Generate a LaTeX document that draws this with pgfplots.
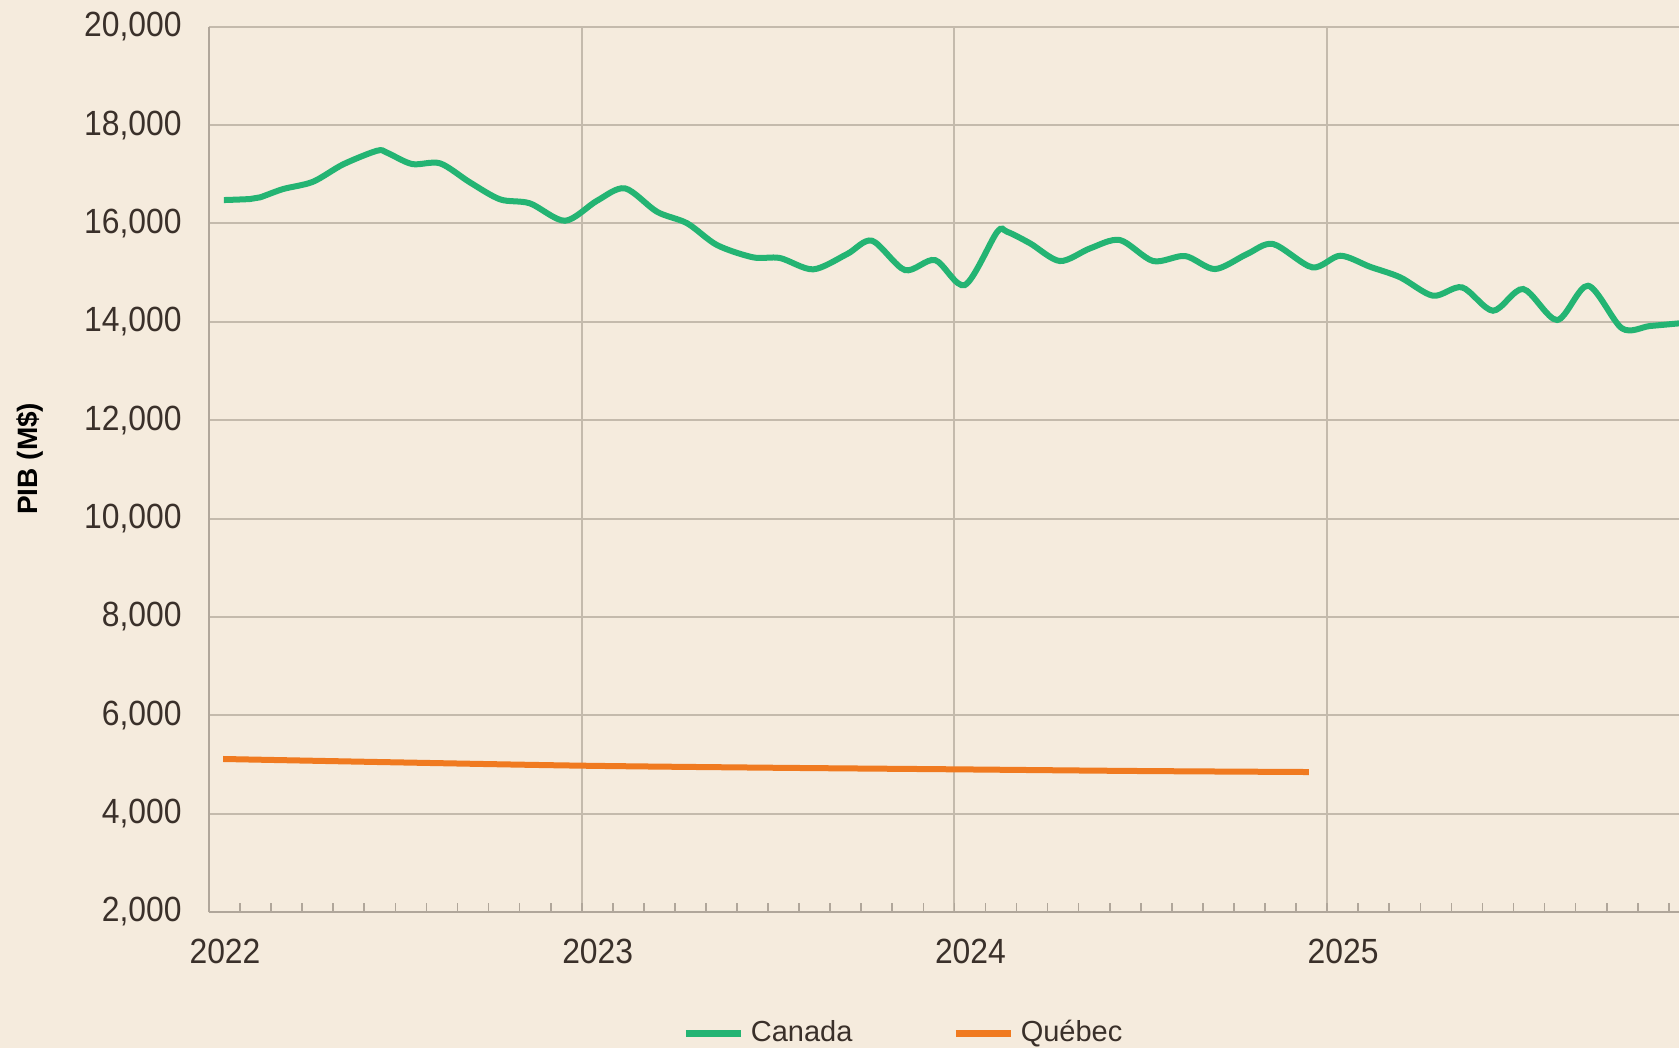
\documentclass[border=0pt]{standalone}
\usepackage{pgfplots}
\pgfplotsset{compat=1.18}
\usepackage{fontspec}
\setmainfont{Liberation Sans}
\newfontfamily\narrow[FakeStretch=0.91]{Liberation Sans}

\definecolor{bg}{RGB}{245,235,221}
\definecolor{gridc}{RGB}{196,186,172}
\definecolor{axisc}{RGB}{176,166,154}
\definecolor{txt}{RGB}{58,48,42}
\definecolor{canada}{RGB}{36,180,115}
\definecolor{quebec}{RGB}{240,122,32}

\begin{document}
\begin{tikzpicture}
% page = 1679 x 1048 px at 0.3pt per px
\fill[bg] (-62.7pt,-40.8pt) rectangle (441pt,273.6pt);
\begin{axis}[
    at={(0,0)}, anchor=south west,
    width=441pt, height=265.6pt,
    scale only axis,
    xmin=2022, xmax=2025.944,
    ymin=2000, ymax=20000,
    xtick={2022,2023,2024,2025},
    minor xtick={2022.0833,2022.1667,2022.25,2022.3333,2022.4167,2022.5,2022.5833,2022.6667,2022.75,2022.8333,2022.9167,
                 2023.0833,2023.1667,2023.25,2023.3333,2023.4167,2023.5,2023.5833,2023.6667,2023.75,2023.8333,2023.9167,
                 2024.0833,2024.1667,2024.25,2024.3333,2024.4167,2024.5,2024.5833,2024.6667,2024.75,2024.8333,2024.9167,
                 2025.0833,2025.1667,2025.25,2025.3333,2025.4167,2025.5,2025.5833,2025.6667,2025.75,2025.8333,2025.9167},
    ytick={2000,4000,...,20000},
    axis x line*=bottom, axis y line*=left,
    axis line style={draw=axisc, line width=0.6pt, -},
    grid=major,
    major grid style={draw=gridc, line width=0.6pt},
    tick align=inside,
    major tick length=2.8pt, minor tick length=2.8pt,
    x tick style={draw=axisc, line width=0.5pt},
    ytick style={draw=none},
    /pgf/number format/assume math mode=true,
    xticklabel style={/pgf/number format/1000 sep={}, font=\narrow\fontsize{10.5}{12}\selectfont, text=txt, yshift=-4.5pt, xshift=4.8pt},
    yticklabel style={/pgf/number format/.cd, fixed, 1000 sep={,}, /tikz/.cd, font=\narrow\fontsize{10.5}{12}\selectfont, text=txt, xshift=-4.7pt},
    scaled y ticks=false,
    ylabel={PIB (M\$)},
    ylabel style={at={(axis description cs:-0.122,0.512)}, anchor=center, rotate=0, font=\fontsize{8.4}{10}\selectfont\bfseries, text=black},
    legend columns=2,
    legend style={at={(0.474,-0.137)}, anchor=center, draw=none, fill=none,
                  font=\fontsize{8.7}{10}\selectfont, text=txt,
                  /tikz/every even column/.append style={column sep=28pt}},
    legend image code/.code={\draw[#1,line width=2pt] (0pt,0pt) -- (16.5pt,0pt);},
    clip=true,
]
\addplot[canada, line width=1.8pt, smooth, tension=0.5] coordinates {
(2022.040,16475) (2022.110,16496) (2022.137,16530) (2022.199,16699)
(2022.279,16847) (2022.360,17201) (2022.451,17478) (2022.478,17437)
(2022.545,17207) (2022.620,17221) (2022.700,16835) (2022.781,16489)
(2022.861,16408) (2022.955,16054) (2023.041,16461) (2023.116,16713)
(2023.202,16237) (2023.283,16002) (2023.363,15560) (2023.460,15310)
(2023.532,15296) (2023.621,15066) (2023.712,15377) (2023.779,15648)
(2023.867,15052) (2023.948,15255) (2024.028,14747) (2024.114,15819)
(2024.141,15831) (2024.203,15595) (2024.283,15235) (2024.364,15493)
(2024.444,15662) (2024.533,15235) (2024.619,15337) (2024.699,15072)
(2024.785,15377) (2024.855,15581) (2024.960,15107) (2025.035,15343)
(2025.115,15119) (2025.196,14904) (2025.284,14530) (2025.362,14700)
(2025.445,14225) (2025.526,14666) (2025.617,14036) (2025.700,14733)
(2025.791,13867) (2025.866,13914) (2025.944,13968)
};
\addlegendentry{Canada}
\addplot[quebec, line width=1.8pt, smooth] coordinates {
(2022.038,5111) (2022.500,5043) (2023.000,4975) (2023.500,4934)
(2024.000,4901) (2024.490,4867) (2024.951,4846)
};
\addlegendentry{Québec}
\end{axis}
\pgfresetboundingbox
\path (-62.7pt,-40.8pt) rectangle (441pt,273.6pt);
\end{tikzpicture}
\end{document}
